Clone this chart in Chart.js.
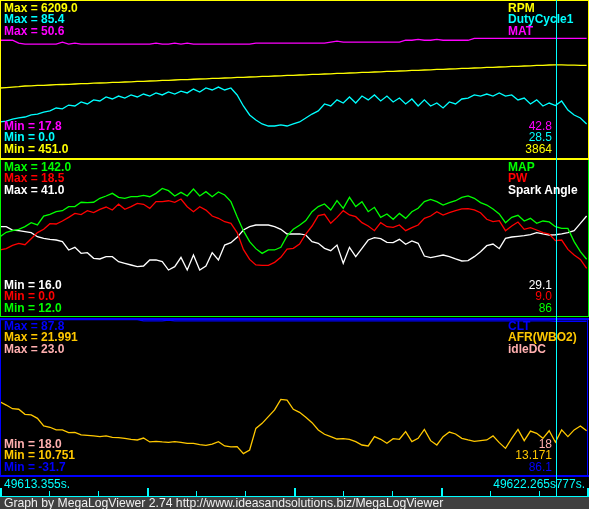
<!DOCTYPE html>
<html><head><meta charset="utf-8">
<script src="https://cdn.jsdelivr.net/npm/chart.js@4/dist/chart.umd.min.js"></script>
<style>
html,body{margin:0;padding:0;background:#000;}
#root{position:relative;width:589px;height:509px;overflow:hidden;background:#000;font-family:"Liberation Sans",Arial,sans-serif;}
canvas{position:absolute;left:0;}
.l{position:absolute;white-space:pre;font-size:12px;line-height:12px;}
.b{font-weight:bold;}
</style></head><body><div id="root">
<canvas id="p1" width="588" height="157" style="top:1px"></canvas>
<canvas id="p2" width="588" height="157" style="top:160px"></canvas>
<canvas id="p3" width="588" height="157" style="top:319px"></canvas>
</div>
<script>
// ---- time axis (seconds) ----
const tStart = 49613.355, tEnd = 49622.777, tCursor = 49622.265;
const time = [49613.355,49613.455,49613.555,49613.655,49613.755,49613.855,49613.955,
49614.055,49614.155,49614.255,49614.355,49614.455,49614.555,49614.655,49614.755,49614.855,49614.955,
49615.055,49615.155,49615.255,49615.355,49615.455,49615.555,49615.655,49615.755,49615.855,49615.955,
49616.055,49616.155,49616.255,49616.355,49616.455,49616.555,49616.655,49616.755,49616.855,49616.955,
49617.055,49617.155,49617.255,49617.355,49617.455,49617.555,49617.655,49617.755,49617.855,49617.955,
49618.055,49618.155,49618.255,49618.355,49618.455,49618.555,49618.655,49618.755,49618.855,49618.955,
49619.055,49619.155,49619.255,49619.355,49619.455,49619.555,49619.655,49619.755,49619.855,49619.955,
49620.055,49620.155,49620.255,49620.355,49620.455,49620.555,49620.655,49620.755,49620.855,49620.955,
49621.055,49621.155,49621.255,49621.355,49621.455,49621.555,49621.655,49621.755,49621.855,49621.955,
49622.055,49622.155,49622.255,49622.355,49622.455,49622.555,49622.655,49622.755];
const startLabel = "49613.355s.", endLabel = "49622.777s.", cursorLabel = "49622.265s";

// ---- panel 1 ----
const rpm = [3018,3032,3047,3066,3091,3098,3112,3115,3128,3140,
3146,3152,3165,3178,3180,3195,3201,3208,3221,3226,
3238,3245,3258,3262,3275,3281,3296,3300,3311,3322,
3327,3340,3348,3355,3368,3372,3385,3391,3405,3410,
3421,3428,3442,3446,3458,3465,3479,3484,3495,3502,
3515,3520,3531,3538,3552,3556,3568,3575,3589,3593,
3605,3611,3625,3630,3641,3648,3662,3666,3678,3685,
3698,3703,3715,3721,3735,3739,3751,3758,3772,3776,
3788,3795,3808,3812,3825,3831,3845,3849,3861,3864,
3866,3860,3857,3850,3846];
const dutyCycle1 = [19.6,20.1,21.2,21.8,22.3,23.4,23.9,25.0,25.6,27.2,
26.7,28.8,28.3,30.5,29.4,31.6,31.0,33.2,32.1,33.7,
32.6,34.3,33.2,34.8,33.7,35.4,34.3,35.9,34.8,36.4,
35.4,37.5,35.9,38.1,37.0,38.6,37.0,38.1,34.3,28.3,
23.4,20.7,18.5,17.4,17.4,18.0,17.4,18.5,19.6,21.8,
23.9,25.6,29.4,28.3,31.6,29.9,33.2,29.9,33.7,31.6,
34.3,31.0,33.7,30.5,32.6,29.4,32.1,28.3,31.6,28.3,
29.9,27.2,30.5,29.4,32.1,32.6,34.3,33.7,34.8,33.7,
35.4,33.7,34.3,31.6,32.6,29.4,31.6,28.3,29.9,28.5,
31.0,26.1,23.4,21.8,18.5];
const mat = [42.4,42.4,42.4,41.8,41.6,41.6,41.6,41.6,41.6,41.6,
42.0,41.6,41.8,41.6,41.6,41.6,41.6,41.6,41.6,41.6,
41.6,41.6,41.6,41.6,41.6,41.8,41.6,41.6,41.8,41.6,
41.8,41.6,41.6,41.6,41.6,41.6,41.6,41.6,41.6,41.6,
41.6,41.8,41.8,41.8,41.8,41.8,41.8,41.8,41.8,41.8,
41.8,41.8,41.8,42.0,42.2,42.0,42.0,42.0,42.0,42.0,
42.0,42.0,42.0,42.0,42.0,42.4,42.4,42.6,42.4,42.4,
42.6,42.4,42.4,42.4,42.4,42.4,42.8,42.8,42.8,42.8,
42.8,42.8,42.8,42.8,42.8,42.8,42.8,42.8,42.8,42.8,
42.8,42.8,42.8,42.8,42.8];

// ---- panel 2 ----
const mapKpa = [78.5,82.1,83.5,84.6,86.8,90.1,88.2,95.6,97.0,99.2,
100.0,103.4,103.4,107.0,106.7,107.0,110.3,112.2,114.4,111.1,
110.3,111.6,111.6,112.7,111.6,114.4,118.5,116.6,112.2,115.2,
112.2,118.0,112.2,115.8,111.6,115.5,113.0,107.5,95.1,83.5,
74.4,68.6,64.7,67.5,67.5,69.7,79.1,84.6,87.9,91.8,
99.2,103.4,105.6,100.6,108.3,102.0,111.1,103.4,107.5,99.2,
102.8,94.5,97.3,92.9,97.8,93.7,99.2,102.0,107.5,109.4,
107.5,104.7,106.7,108.3,111.1,112.2,110.3,106.7,104.7,101.4,
97.3,90.1,94.5,96.2,91.5,93.7,89.6,91.5,90.7,86.8,
85.4,85.4,74.4,66.1,59.8];
const pw = [7.90,8.05,8.44,8.68,8.52,9.23,9.94,10.33,11.00,10.96,
11.31,11.74,12.20,12.06,12.53,12.30,12.69,12.96,12.60,13.30,
12.69,13.00,13.39,13.28,12.80,13.59,13.59,13.70,13.51,13.90,
13.00,12.41,13.00,12.60,11.90,11.63,11.23,11.04,9.94,7.97,
6.79,6.13,6.09,6.09,6.44,7.03,8.01,8.09,8.60,9.78,
10.72,11.94,12.10,11.04,11.74,12.53,12.02,11.82,11.12,10.72,
10.17,11.12,10.64,10.57,10.84,10.17,10.53,10.84,11.63,11.90,
12.41,12.02,12.29,12.53,12.73,12.77,12.61,12.29,11.51,11.23,
11.35,10.17,10.72,11.19,10.33,10.53,10.25,9.94,9.78,9.00,
9.07,7.97,7.30,6.79,5.73];
const sparkAngle = [30.38,30.38,29.85,29.75,29.59,29.43,28.79,28.53,28.37,28.26,
28.00,26.67,27.09,26.14,26.24,25.34,25.24,25.61,25.61,24.81,
24.55,24.28,24.01,24.12,25.08,25.08,24.81,23.48,24.01,25.50,
23.48,25.87,23.48,24.12,26.24,25.08,27.46,27.84,28.69,29.85,
30.38,30.65,30.65,30.65,30.38,29.96,29.22,29.22,29.22,29.06,
28.00,27.73,26.93,26.56,27.46,24.55,27.09,25.61,26.93,28.26,
28.63,28.47,27.89,27.84,28.37,27.57,28.10,27.73,25.71,25.45,
25.66,25.87,25.61,25.24,24.92,24.97,25.61,26.40,27.36,27.62,
26.88,28.53,28.74,28.84,28.95,29.11,29.43,29.22,29.06,29.10,
29.22,29.43,29.75,30.91,32.08];

// ---- panel 3 ----
const clt = [87.4,87.4,87.4,87.4,87.4,87.4,87.4,87.4,87.4,87.4,
87.4,87.4,87.4,87.4,87.4,87.4,87.4,87.4,87.4,87.4,
87.4,87.4,87.4,86.3,86.3,86.3,86.3,87.0,86.3,86.3,
86.3,86.3,86.3,86.3,86.3,86.3,86.3,86.3,86.3,86.3,
86.3,86.3,86.3,86.3,86.3,86.3,86.3,86.3,86.3,86.3,
86.3,86.3,86.3,86.3,86.3,86.3,86.3,86.3,86.3,86.3,
86.3,86.3,86.3,86.3,86.3,86.3,86.3,86.3,86.3,86.3,
86.3,86.3,86.3,86.3,86.3,86.3,86.3,86.3,86.3,86.3,
86.3,86.3,86.3,86.3,86.3,86.3,86.3,86.3,86.3,86.1,
86.1,86.1,86.1,86.1,86.1];
const afr = [16.07,15.83,15.57,15.53,15.17,15.12,14.88,14.33,14.24,14.05,
14.05,13.85,13.88,13.69,13.66,13.62,13.57,13.62,13.52,13.50,
13.45,13.38,13.33,13.47,13.19,13.23,13.19,13.16,13.21,13.16,
13.09,13.09,12.99,12.95,13.04,13.21,12.90,12.83,12.85,12.35,
12.61,14.16,14.52,15.00,15.48,16.24,16.19,15.53,15.31,14.95,
14.57,14.05,13.74,13.57,13.40,13.42,13.38,13.21,12.97,12.90,
13.57,13.38,13.09,13.42,13.38,13.93,13.21,13.45,14.09,13.28,
12.97,13.57,13.90,13.76,13.45,13.33,13.23,13.28,13.33,13.62,
13.14,12.73,13.45,14.09,13.28,13.97,13.81,13.45,13.99,13.17,
14.05,13.57,14.05,14.33,13.99];
const idleDC = [18,18,18,18,18,18,18,18,18,18,18,18,18,18,18,18,18,18,18,18,
18,18,18,18,18,18,18,18,18,18,18,18,18,18,18,18,18,18,18,18,
18,18,18,18,18,18,18,18,18,18,18,18,18,18,18,18,18,18,18,18,
18,18,18,18,18,18,18,18,18,18,18,18,18,18,18,18,18,18,18,18,
18,18,18,18,18,18,18,18,18,18,18,18,18,18,18];

// ---- ranges (min, max) and cursor readouts ----
const names = [["RPM","DutyCycle1","MAT"],["MAP","PW","Spark Angle"],["CLT","AFR(WBO2)","idleDC"]];
const colors = [["#ffff00","#00ffff","#ff00ff"],["#00ff00","#ff0000","#ffffff"],["#0000ff","#ffc800","#ffafaf"]];
const mins = [[451.0,0.0,17.8],[12.0,0.0,16.0],[-31.7,10.751,18.0]];
const maxs = [[6209.0,85.4,50.6],[142.0,18.5,41.0],[87.8,21.991,23.0]];
const decimals = [[1,1,1],[1,1,1],[1,3,1]];
const cursorValues = [["3864","28.5","42.8"],["86","9.0","29.1"],["86.1","13.171","18"]];
const seriesData = [[rpm,dutyCycle1,mat],[mapKpa,pw,sparkAngle],[clt,afr,idleDC]];

const root = document.getElementById('root');
const W = 589;
function rect(x,y,w,h,c){const d=document.createElement('div');d.style.cssText=`position:absolute;left:${x}px;top:${y}px;width:${w}px;height:${h}px;background:${c}`;root.appendChild(d);return d;}
function text(s,x,base,c,opt){opt=opt||{};const d=document.createElement('div');d.className='l'+(opt.bold?' b':'');d.textContent=s;d.style.color=c;d.style.top=(base-10)+'px';if(opt.right){d.style.right=(W-x)+'px';}else{d.style.left=x+'px';}if(opt.bg)d.style.background=opt.bg;if(opt.size)d.style.fontSize=opt.size;root.appendChild(d);return d;}

const charts = [];
['p1','p2','p3'].forEach((id,p)=>{
  const datasets = seriesData[p].map((vals,k)=>({
    label: names[p][k],
    data: time.map((t,i)=>({x:t,y:vals[i]})),
    borderColor: colors[p][k], borderWidth: 1.3, pointRadius: 0, tension: 0, fill: false,
    yAxisID: 'y'+k
  }));
  const scales = {x:{type:'linear',display:false,min:tStart,max:tEnd}};
  for(let k=0;k<3;k++) scales['y'+k] = {type:'linear',display:false,min:mins[p][k],max:maxs[p][k]};
  charts.push(new Chart(document.getElementById(id),{
    type:'line', data:{datasets},
    options:{responsive:false,animation:false,events:[],layout:{padding:0},
      plugins:{legend:{display:false},tooltip:{enabled:false}}, scales}
  }));
});

// panel frames
rect(0,0,589,1,'#ffff00'); rect(0,0,1,158,'#ffff00'); rect(588,0,1,158,'#ffff00'); rect(0,158,589,2,'#ffff00');
rect(0,160,1,157,'#00ff00'); rect(588,160,1,157,'#00ff00'); rect(0,316,589,1,'#00ff00');
rect(0,318,589,2,'#0000ff'); rect(0,318,1,159,'#0000ff'); rect(587,318,1,159,'#0000ff'); rect(0,475,589,2,'#0000ff');

// time axis ticks via the x scale
const xs = charts[0].scales.x;
for(let k=0;k<=12;k++){
  let px = Math.round(xs.getPixelForValue(tStart + k*(tEnd-tStart)/12));
  if(k%3===0){ px = Math.min(px,587); rect(px,488,2,8,'#00ffff'); }
  else rect(px,491,1,5,'#00ffff');
}
rect(0,496,589,1,'#00ffff');
// cursor
const cx = Math.round(xs.getPixelForValue(tCursor));
rect(cx,0,1,496,'#00ffff');

// footer
rect(0,497,589,12,'#404040');
text("Graph by MegaLogViewer 2.74 http://www.ideasandsolutions.biz/MegaLogViewer",4,507,'#f0f0f0',{size:'12.2px'});

// time labels
text(startLabel,4,488,'#00ffff');
text(endLabel,585,488,'#00ffff',{right:true});
text(cursorLabel,cx,488,'#00ffff',{right:true,bg:'#000'});

// panel labels
const tops=[0,159,318], bottoms=[158,317,476];
for(let p=0;p<3;p++){
  for(let k=0;k<3;k++){
    const base = tops[p]+12+k*11.3;
    text("Max = "+maxs[p][k].toFixed(decimals[p][k]),4,base,colors[p][k],{bold:true});
    text(names[p][k],508,base,colors[p][k],{bold:true});
  }
  for(let j=0;j<3;j++){
    const k = 2-j;
    const base = bottoms[p]-28+j*11.3;
    text("Min = "+mins[p][k].toFixed(decimals[p][k]),4,base,colors[p][k],{bold:true});
    text(cursorValues[p][k],552,base,colors[p][k],{right:true});
  }
}
</script></body></html>
